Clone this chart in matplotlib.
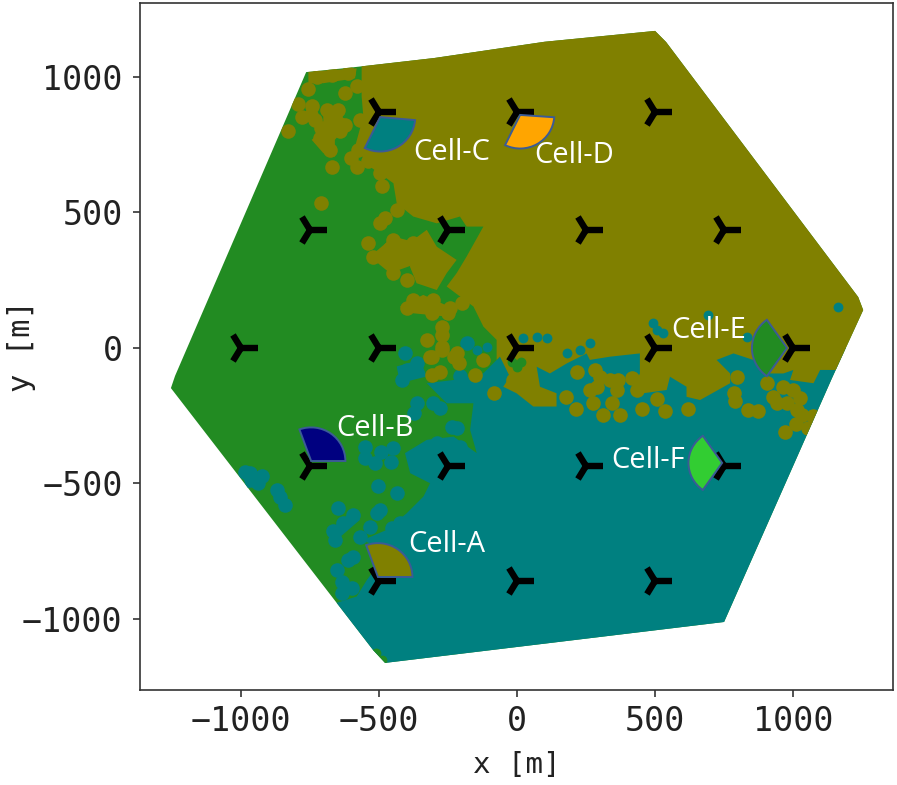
import matplotlib
matplotlib.use("Agg")
import matplotlib.pyplot as plt
from matplotlib.patches import Polygon, Wedge

# Network footprint and regions (metres)
hex_x = [-764, -600, -300, 100, 500, 540, 1236, 1254, 1141, 750, -478, -522, -1254, -1239]
hex_y = [1018, 1035, 1070, 1130, 1170, 1129, 188, 140, -111, -1011, -1162, -1114, -148, -103]

teal_x = [-659, -581, -544, -472, -557, -472, -400, -339, -315, -387, -406, -327, -230, -146, -170, -158, -255, -327, -230, -122, -50, 100, 500, 1400, 1400, -659]
teal_y = [-942, -917, -856, -757, -708, -671, -610, -548, -499, -462, -388, -339, -327, -388, -302, -204, -204, -130, -118, -93, -20, 0, 0, 0, -1400, -1400]

olive_x = [-563, -563, -557, -587, -533, -448, -436, -376, -291, -207, -183, -122, -183, -219, -255, -158, -122, -74, -74,
           -62, -26, -50, -2, 59, 143, 143, 83, 71, 119, 180, 252, 264, 337, 445, 445, 421, 457, 542, 554, 614, 614, 663,
           772, 772, 723, 784, 856, 892, 965, 1001, 989, 1074, 1098, 1164, 1194, 1400, 1400, -563]
olive_y = [1300, 928, 854, 743, 669, 608, 534, 485, 460, 485, 448, 448, 337, 276, 227, 153, 79, 30, -44,
           -32, -106, -143, -167, -216, -216, -167, -143, -69, -94, -57, -20, -44, -32, -20, -94, -143, -167, -155, -106, -143, -180, -192,
           -130, -94, -44, -20, -44, -94, -94, -81, -118, -130, -81, -81, 4, 100, 1300, 1300]

island_x = [-327, -291, -219, -255, -291, -364, -388, -376]
island_y = [436, 374, 325, 276, 214, 239, 300, 399]

clump1_x = [-702, -605, -660, -660, -702, -744, -702]
clump1_y = [891, 835, 768, 706, 719, 768, 805]
clump2_x = [-756, -581, -587, -702, -756]
clump2_y = [1020, 1032, 995, 977, 977]
clump3_x = [-533, -448, -352, -327, -460]
clump3_y = [337, 411, 386, 325, 276]
clump4_x = [-424, -340, -219, -255, -376]
clump4_y = [153, 196, 140, 116, 128]

teal_clump1_x = [-677, -593, -569, -653]
teal_clump1_y = [-671, -597, -634, -708]
teal_clump2_x = [-1004, -919, -919, -979]
teal_clump2_y = [-450, -462, -511, -517]
teal_clump3_x = [-436, -351, -327, -424]
teal_clump3_y = [-68, -44, -105, -130]

olive_blob_x = [-726, -672, -611, -756, -623, -581, -793, -744, -780, -732, -690, -660, -623, -690, -714, -678, -829, -672, -579, -710,
                -569, -575, -497, -491, -436, -497, -478, -539, -448, -376, -472, -521, -412, -352, -448, -376, -400, -303, -243, -307,
                -273, -273, -327, -273, -219, -309,
                216, 282, 300, 264, 337, 288, 367, 361, 343, 415, 433, 177, 274, 213, 312, 373, 506, 451, 536, 621,
                798, 787, 790, 838, 874, 904, 929, 965, 1001, 1025, 977, 1013, 1031, 1071, 1011, 1055, 971, 941,
                -315, -273, -230, -212, -309, -279, -152, -122, -85, -13, 47, 59, 11, -49,
                -700, -640, -650, -710, -745, -600, -540, -520, -460, -420, -350, -400, -250, -200]
olive_blob_y = [1001, 1008, 1014, 955, 940, 965, 901, 893, 854, 842, 879, 854, 823, 817, 774, 731, 799, 669, 667, 534,
                842, 731, 645, 596, 509, 460, 479, 386, 399, 386, 350, 337, 337, 337, 276, 177, 147, 177, 147, 128,
                79, 48, 30, 5, -19, -32,
                -87, -81, -106, -155, -118, -143, -118, -155, -204, -112, -155, -180, -202, -225, -247, -247, -188, -226, -232, -225,
                -106, -165, -196, -229, -232, -130, -180, -143, -155, -186, -204, -229, -247, -250, -280, -296, -309, -204,
                -32, -7, -32, -56, -99, -87, -99, -44, -167, -118, -105, -155, -142, 5,
                780, 800, 880, 810, 860, 700, 690, 760, 370, 360, 310, 250, 130, 165]

teal_blob_x = [-967, -937, -985, -925, -871, -859, -840, -647, -593, -629, -665, -659, -611, -653, -635, -599, -635,
               -551, -551, -494, -514, -458, -502, -448, -406, -400, -363, -418, -206, -182, -363, -375, -303, -279, -218, -236, -291, -206,
               -436, -496, -508, -454, -424, -532, -569, -593]
teal_blob_y = [-462, -499, -456, -474, -524, -548, -579, -591, -616, -647, -677, -708, -782, -819, -862, -886, -905,
               -364, -407, -382, -425, -421, -511, -370, -19, -81, -56, -118, -105, 18, -204, -241, -204, -222, -296, -290, -351, -364,
               -536, -597, -610, -665, -646, -659, -696, -770]

pocket_x = [494, 506, 530, 832, 693, 1164, 107, -110, -146, 23, 71, 228, 180, 264]
pocket_y = [91, 66, 54, 42, 122, 152, 36, 5, -7, 36, 42, -7, -19, 17]

green_bit_x = [-2, -20, 15, -510, -490]
green_bit_y = [-69, -50, -50, -1125, -1150]

# Turbines
turbine_x = [-500, 0, 500, -750, -250, 250, 750, -1000, -500, 0, 500, 1000, -750, -250, 250, 750, -500, 0, 500]
turbine_y = [870, 870, 870, 435, 435, 435, 435, 0, 0, 0, 0, 0, -435, -435, -435, -435, -860, -860, -860]

# Cells
cell_names = ["Cell-A", "Cell-B", "Cell-C", "Cell-D", "Cell-E", "Cell-F"]
cell_colors = ["olive", "navy", "teal", "orange", "forestgreen", "limegreen"]
cell_x = [-504, -746, -496, 11, 978, 743]
cell_y = [-845, -417, 852, 860, 0, -424]
cell_t1 = [0, 0, -116, -116, 125, 125]
cell_t2 = [110, 110, -5, -4, 235, 235]
cell_r = [125, 124, 127, 124, 127, 122]
label_x = [-395, -656, -377, 62, 558, 341]
label_y = [-725, -297, 722, 711, 65, -415]

xticks = [-1000, -500, 0, 500, 1000]
yticks = [-1000, -500, 0, 500, 1000]

plt.rcParams["font.family"] = ["DejaVu Sans Mono", "DejaVu Sans"]
fig = plt.figure(figsize=(8.97, 7.85), dpi=100)
ax = fig.add_axes([140 / 897, 95 / 785, 753 / 897, 687 / 785])

hexagon = Polygon(list(zip(hex_x, hex_y)), closed=True, fc="forestgreen", ec="none", zorder=1)
ax.add_patch(hexagon)

def clipped(p):
    p.set_clip_path(hexagon)
    return p

def region(xs, ys, colour, z):
    clipped(ax.add_patch(Polygon(list(zip(xs, ys)), closed=True, fc=colour, ec="none", zorder=z)))

region(teal_x, teal_y, "teal", 2)
region(teal_clump1_x, teal_clump1_y, "teal", 2)
region(teal_clump2_x, teal_clump2_y, "teal", 2)
region(teal_clump3_x, teal_clump3_y, "teal", 2)
clipped(ax.scatter(teal_blob_x, teal_blob_y, s=110, c="teal", lw=0, zorder=2))
region(olive_x, olive_y, "olive", 3)
region(island_x, island_y, "olive", 3)
region(clump1_x, clump1_y, "olive", 3)
region(clump2_x, clump2_y, "olive", 3)
region(clump3_x, clump3_y, "olive", 3)
region(clump4_x, clump4_y, "olive", 3)
clipped(ax.scatter(olive_blob_x, olive_blob_y, s=110, c="olive", lw=0, zorder=3))
clipped(ax.scatter(pocket_x, pocket_y, s=50, c="teal", lw=0, zorder=4))
clipped(ax.scatter(green_bit_x, green_bit_y, s=50, c="forestgreen", lw=0, zorder=4))

ax.plot(turbine_x, turbine_y, ls="none", marker="4", ms=24, mew=4.6, color="black", zorder=5)

for i, name in enumerate(cell_names):
    ax.add_patch(Wedge((cell_x[i], cell_y[i]), cell_r[i], cell_t1[i], cell_t2[i],
                       fc=cell_colors[i], ec="#3b5b96", lw=1.4, zorder=6))
    ax.text(label_x[i], label_y[i], name, color="white", family="Open Sans", fontsize=21,
            ha="left", va="center", zorder=7)

ax.set_xlim(-1366, 1362)
ax.set_ylim(-1262, 1273)
ax.set_xticks(xticks)
ax.set_yticks(yticks)
ax.tick_params(labelsize=24, length=5, width=1.1, pad=6, colors="#222222")
ax.tick_params(axis="y", pad=7.5)
ax.set_xlabel("x [m]", fontsize=21, color="#222222", labelpad=9)
ax.set_ylabel("y [m]", fontsize=22, color="#222222")
ax.yaxis.set_label_coords(-0.138, 0.5)
for s in ax.spines.values():
    s.set_color("#333333")
    s.set_linewidth(1.2)

fig.savefig("out.png", dpi=100)
